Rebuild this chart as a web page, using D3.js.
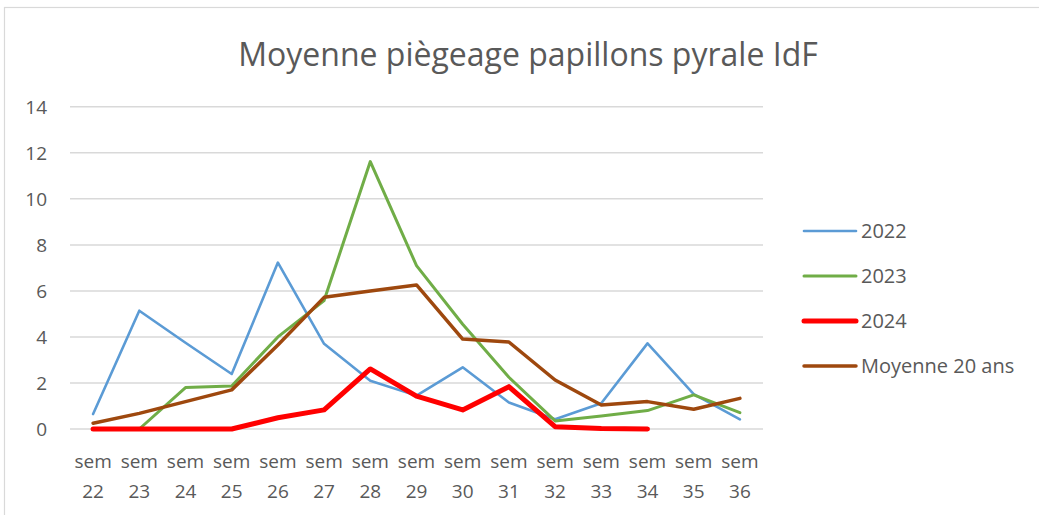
<!DOCTYPE html>
<meta charset="utf-8">
<style>
  body { margin: 0; background: white; }
  svg text { font-family: "Open Sans", "Noto Sans", sans-serif; fill: #595959; }
</style>
<body>
<div id="chart"></div>
<script src="https://d3js.org/d3.v7.min.js"></script>
<script>
// weeks and series
const weeks = ["22", "23", "24", "25", "26", "27", "28", "29", "30", "31", "32", "33", "34", "35", "36"];
const y2022 = [0.65, 5.14, 3.75, 2.39, 7.23, 3.7, 2.1, 1.45, 2.68, 1.15, 0.42, 1.12, 3.72, 1.52, 0.42];
const y2023 = [0, 0, 1.8, 1.87, 4.0, 5.58, 11.62, 7.1, 4.55, 2.25, 0.35, 0.56, 0.8, 1.48, 0.71];
const y2024 = [0, 0, 0, 0, 0.49, 0.83, 2.61, 1.43, 0.83, 1.84, 0.1, 0.02, 0, null, null];
const moy20 = [0.25, 0.68, 1.19, 1.7, 3.65, 5.72, 6.0, 6.26, 3.91, 3.78, 2.13, 1.04, 1.19, 0.86, 1.33];
const yTicks = [0, 2, 4, 6, 8, 10, 12, 14];

const series = [
  {name: "2022", values: y2022, color: "#5B9BD5", width: 2.6},
  {name: "2023", values: y2023, color: "#70AD47", width: 3},
  {name: "2024", values: y2024, color: "#FF0000", width: 5},
  {name: "Moyenne 20 ans", values: moy20, color: "#9E480E", width: 3.5}
];
// drawing order: red on top of green at zero
const drawOrder = [series[0], series[1], series[3], series[2]];

const width = 1039, height = 515;
const svg = d3.select("#chart").append("svg")
  .attr("width", width)
  .attr("height", height);

// chart border
svg.append("rect")
  .attr("x", 4.5).attr("y", 7.5)
  .attr("width", width + 10).attr("height", height + 10)
  .attr("fill", "none")
  .attr("stroke", "#d9d9d9")
  .attr("stroke-width", 1.2);

const x = d3.scaleBand().domain(weeks).range([70, 763]);
const y = d3.scaleLinear().domain([0, 14]).range([429, 106.8]);

// gridlines
svg.append("g")
  .selectAll("line")
  .data(yTicks)
  .join("line")
  .attr("x1", 70).attr("x2", 763)
  .attr("y1", d => y(d)).attr("y2", d => y(d))
  .attr("stroke", "#d9d9d9")
  .attr("stroke-width", 1.5);

// y labels
svg.append("g")
  .selectAll("text")
  .data(yTicks)
  .join("text")
  .attr("x", 47)
  .attr("y", d => y(d))
  .attr("dy", "0.36em")
  .attr("text-anchor", "end")
  .style("font-size", "19px")
  .text(d => d);

// x labels, two lines
const xl = svg.append("g")
  .selectAll("text")
  .data(weeks)
  .join("text")
  .attr("text-anchor", "middle")
  .style("font-size", "19px");
xl.append("tspan")
  .attr("x", d => x(d) + x.bandwidth() / 2)
  .attr("y", 468)
  .text("sem");
xl.append("tspan")
  .attr("x", d => x(d) + x.bandwidth() / 2)
  .attr("y", 498)
  .text(d => d);

// lines
const line = d3.line()
  .defined(d => d.v !== null)
  .x(d => x(d.w) + x.bandwidth() / 2)
  .y(d => y(d.v));

svg.append("g")
  .selectAll("path")
  .data(drawOrder)
  .join("path")
  .attr("fill", "none")
  .attr("stroke", d => d.color)
  .attr("stroke-width", d => d.width)
  .attr("stroke-linejoin", "round")
  .attr("stroke-linecap", "round")
  .attr("d", d => line(d.values.map((v, i) => ({w: weeks[i], v: v}))));

// title
svg.append("text")
  .attr("x", 528)
  .attr("y", 66)
  .attr("text-anchor", "middle")
  .style("font-size", "32px")
  .text("Moyenne pi\u00e8geage papillons pyrale IdF");

// legend
const leg = svg.append("g")
  .selectAll("g")
  .data(series)
  .join("g")
  .attr("transform", (d, i) => `translate(0, ${231 + i * 45})`);
leg.append("line")
  .attr("x1", 804).attr("x2", 856)
  .attr("stroke", d => d.color)
  .attr("stroke-width", d => d.width)
  .attr("stroke-linecap", "round");
leg.append("text")
  .attr("x", 861)
  .attr("dy", "0.36em")
  .style("font-size", "20px")
  .text(d => d.name);
</script>
</body>
